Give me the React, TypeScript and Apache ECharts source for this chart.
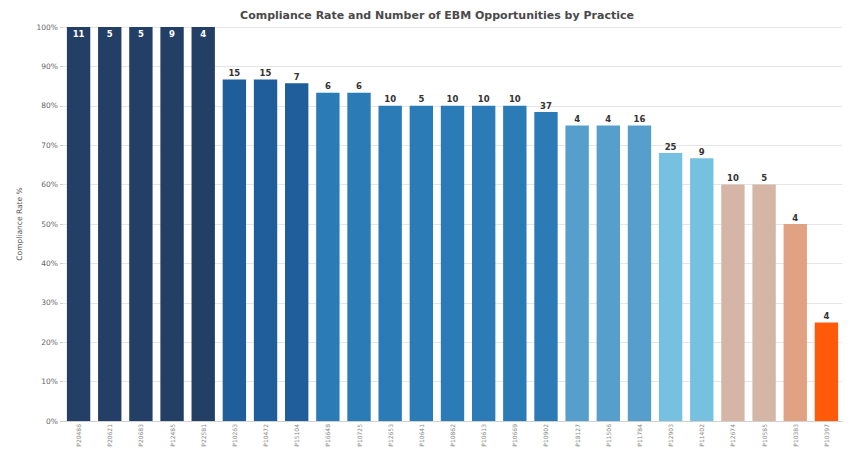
import React, { useEffect, useRef } from "react";
import * as echarts from "echarts";

const practices = [
  "P20486", "P20621", "P20683", "P12485", "P22581", "P10263", "P10472", "P15104", "P16648", "P10725",
  "P12653", "P10641", "P10862", "P10613", "P10669", "P10902", "P18127", "P11506", "P11784", "P12903",
  "P11402", "P12674", "P10585", "P10383", "P10397",
];
const complianceRate = [
  100, 100, 100, 100, 100, 86.7, 86.7, 85.7, 83.3, 83.3,
  80, 80, 80, 80, 80, 78.4, 75, 75, 75, 68,
  66.7, 60, 60, 50, 25,
];
const opportunities = [
  11, 5, 5, 9, 4, 15, 15, 7, 6, 6,
  10, 5, 10, 10, 10, 37, 4, 4, 16, 25,
  9, 10, 5, 4, 4,
];
const barColors = [
  "#243f66", "#243f66", "#243f66", "#243f66", "#243f66",
  "#1f5e9b", "#1f5e9b", "#1f5e9b",
  "#2b7bb6", "#2b7bb6", "#2b7bb6", "#2b7bb6", "#2b7bb6", "#2b7bb6", "#2b7bb6", "#2b7bb6",
  "#569fcc", "#569fcc", "#569fcc",
  "#76c0e0", "#76c0e0",
  "#d5b6a6", "#d5b6a6",
  "#e0a283",
  "#ff5a0a",
];
const yTicks = [0, 10, 20, 30, 40, 50, 60, 70, 80, 90, 100];

const FONT = "DejaVu Sans, Verdana, sans-serif";

export default function App() {
  const ref = useRef<HTMLDivElement>(null);
  useEffect(() => {
    if (!ref.current) return;
    const chart = echarts.init(ref.current, null, { renderer: "svg" });
    chart.setOption({
      animation: false,
      backgroundColor: "#ffffff",
      title: {
        text: "Compliance Rate and Number of EBM Opportunities by Practice",
        left: 432,
        top: 5,
        textAlign: "center",
        textStyle: { fontSize: 11, fontWeight: "bold", color: "#4a4a4a", fontFamily: FONT },
      },
      grid: { left: 63, right: 8, top: 27, bottom: 35, containLabel: false },
      xAxis: {
        type: "category",
        data: practices,
        axisTick: { show: false },
        axisLine: { show: true, lineStyle: { color: "#d0d0d0" } },
        axisLabel: {
          rotate: 90,
          fontSize: 6,
          color: "#888",
          margin: 3,
          interval: 0,
          fontFamily: FONT,
        },
      },
      yAxis: {
        type: "value",
        min: yTicks[0],
        max: yTicks[yTicks.length - 1],
        interval: 10,
        name: "Compliance Rate %",
        nameLocation: "middle",
        nameGap: 40,
        nameTextStyle: { fontSize: 7.5, color: "#555", fontFamily: FONT },
        axisLine: { show: false },
        axisTick: { show: true, length: 3, lineStyle: { color: "#ccc" } },
        axisLabel: {
          formatter: "{value}%",
          fontSize: 7.5,
          color: "#666",
          margin: 5,
          fontFamily: FONT,
        },
        splitLine: { show: true, lineStyle: { color: "#e6e6e6", width: 1 } },
      },
      series: [
        {
          type: "bar",
          barCategoryGap: "25%",
          data: complianceRate.map((v, i) => ({
            value: v,
            itemStyle: { color: barColors[i] },
            label: {
              show: true,
              position: v >= 100 ? "insideTop" : "top",
              distance: 2,
              formatter: String(opportunities[i]),
              color: v >= 100 ? "#ffffff" : "#333",
              fontSize: 8.5,
              fontWeight: "bold",
              fontFamily: FONT,
            },
          })),
        },
      ],
    });
    return () => chart.dispose();
  }, []);
  return <div ref={ref} style={{ position: "fixed", left: 0, top: 0, width: 850, height: 456 }} />;
}
